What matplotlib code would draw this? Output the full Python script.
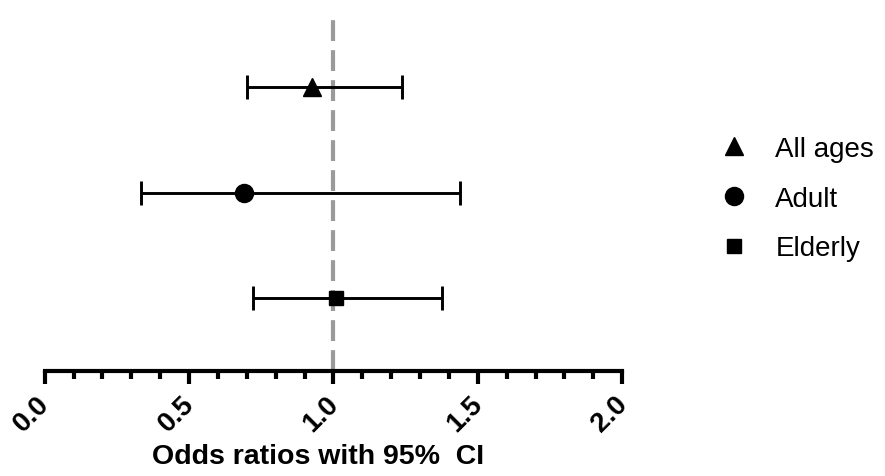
"""
Forest plot of odds ratios (95% CI) by age group.
"""

import matplotlib.pyplot as plt
import matplotlib.transforms as mtransforms
from matplotlib.lines import Line2D
from matplotlib.ticker import MultipleLocator

plt.rcParams['font.family'] = ['Liberation Sans', 'DejaVu Sans']

# Odds ratios and confidence limits
# ----------------------------------------------------------------------------

groups = ['All ages', 'Adult', 'Elderly']
odds = [0.927, 0.690, 1.010]
ci_low = [0.701, 0.332, 0.721]
ci_high = [1.237, 1.437, 1.377]
markers = ['^', 'o', 's']
msizes = [13, 13, 10]
rows = [3, 2, 1]

# Plot
# ----------------------------------------------------------------------------

fig = plt.figure(figsize=(8.85, 4.77), dpi=100)
ax = fig.add_axes([0.0505, 0.22, 0.6525, 0.755])

ax.axvline(1.0, color='#9a9a9a', lw=3, ls=(0, (5, 2.2)), zorder=1)

for y, m, lo, hi, mk, ms in zip(rows, odds, ci_low, ci_high, markers, msizes):
    ax.errorbar(m, y, xerr=[[m - lo], [hi - m]], fmt=mk, ms=ms, color='black',
                ecolor='black', elinewidth=2.1, capsize=8.5, capthick=2.1, zorder=3)

ax.set_xlim(0, 2.0)
ax.set_ylim(0.31, 3.72)
ax.xaxis.set_minor_locator(MultipleLocator(0.1))
ax.set_xticks([0, 0.5, 1.0, 1.5, 2.0])
ax.set_xticklabels(['0.0', '0.5', '1.0', '1.5', '2.0'], rotation=45,
                   ha='right', va='top', rotation_mode='anchor',
                   fontsize=20, fontweight='bold')
ax.tick_params(axis='x', which='major', length=9, width=3, pad=5)
ax.tick_params(axis='x', which='minor', length=6, width=3)
ax.set_yticks([])

# nudge the rotated tick labels a little to the left
shift = mtransforms.ScaledTranslation(-6 / 72, 0, fig.dpi_scale_trans)
for lbl in ax.get_xticklabels():
    lbl.set_transform(lbl.get_transform() + shift)

for side in ['top', 'right', 'left']:
    ax.spines[side].set_visible(False)
ax.spines['bottom'].set_linewidth(3)

ax.set_xlabel('Odds ratios with 95%  CI', fontsize=20.5, fontweight='bold')
ax.xaxis.set_label_coords(0.473, -0.2)

handles = [Line2D([], [], ls='', marker=mk, ms=ms, color='black')
           for mk, ms in zip(markers, msizes)]
fig.legend(handles, groups, loc='upper left', bbox_to_anchor=(0.785, 0.765),
           frameon=False, fontsize=20, labelspacing=0.85, handletextpad=1.0,
           handlelength=1.0)

fig.savefig('out.png', dpi=100)
